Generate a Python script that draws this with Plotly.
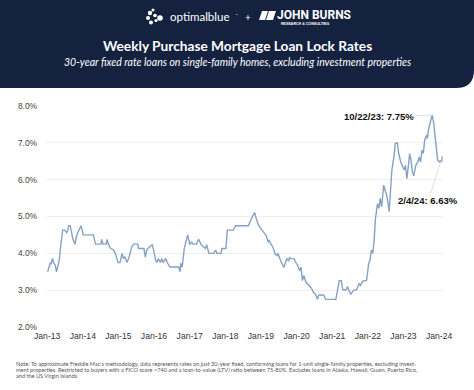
import plotly.graph_objects as go

# ---------------- data ----------------
dates = [
    "2013-01-06","2013-01-20","2013-02-03","2013-02-10","2013-02-24","2013-03-10","2013-03-24","2013-04-07",
    "2013-04-21","2013-05-05","2013-05-19","2013-06-09","2013-07-01","2013-07-21","2013-07-31","2013-08-11",
    "2013-08-25","2013-09-08","2013-09-22","2013-10-13","2013-10-27","2013-11-17","2013-12-15","2014-01-05",
    "2014-04-20","2014-05-11","2014-07-06","2014-07-13","2014-07-27","2014-08-31","2014-09-07","2014-09-21",
    "2014-10-12","2014-11-09","2014-11-30","2014-12-28","2015-01-18","2015-02-08","2015-02-22","2015-03-08",
    "2015-03-29","2015-04-19","2015-05-17","2015-06-07","2015-07-19","2015-07-26","2015-09-20","2015-10-04",
    "2015-10-18","2015-11-15","2015-12-13","2015-12-27","2016-01-17","2016-01-31","2016-02-14","2016-03-06",
    "2016-03-20","2016-04-03","2016-05-01","2016-05-15","2016-06-12","2016-09-11","2016-09-25","2016-10-02",
    "2016-10-16","2016-11-06","2016-11-20","2016-12-11","2017-01-01","2017-01-22","2017-02-05","2017-03-12",
    "2017-04-02","2017-04-16","2017-04-30","2017-05-21","2017-06-11","2017-06-25","2017-07-16","2017-09-03",
    "2017-09-24","2017-10-08","2017-11-19","2017-11-26","2018-01-07","2018-01-21","2018-03-25","2018-04-15",
    "2018-08-26","2018-09-23","2018-10-28","2018-11-11","2018-12-02","2018-12-23","2019-01-13","2019-02-03",
    "2019-02-24","2019-03-17","2019-03-24","2019-04-14","2019-05-05","2019-05-26","2019-06-16","2019-06-23",
    "2019-07-14","2019-07-28","2019-08-25","2019-09-08","2019-09-22","2019-10-13","2019-10-20","2019-11-17",
    "2019-12-08","2019-12-22","2020-01-12","2020-02-02","2020-02-16","2020-03-01","2020-03-15","2020-04-05",
    "2020-05-03","2020-05-31","2020-06-21","2020-07-19","2020-08-02","2020-08-16","2020-10-04","2020-10-25",
    "2021-02-07","2021-02-28","2021-03-14","2021-04-04","2021-04-18","2021-05-23","2021-06-06","2021-06-20",
    "2021-07-11","2021-08-08","2021-09-05","2021-10-03","2021-10-17","2021-11-07","2021-12-19","2022-01-09",
    "2022-01-23","2022-02-06","2022-02-20","2022-03-06","2022-03-20","2022-04-10","2022-04-24","2022-05-08",
    "2022-05-22","2022-06-12","2022-06-26","2022-07-17","2022-08-07","2022-08-21","2022-09-04","2022-09-25",
    "2022-10-09","2022-10-30","2022-11-13","2022-12-04","2022-12-18","2023-01-08","2023-01-22","2023-02-05",
    "2023-02-19","2023-03-05","2023-03-19","2023-04-02","2023-04-16","2023-05-07","2023-05-28","2023-06-11",
    "2023-06-25","2023-07-09","2023-07-23","2023-08-06","2023-08-27","2023-09-03","2023-09-17","2023-10-01",
    "2023-10-22","2023-11-05","2023-11-19","2023-12-03","2023-12-17","2024-01-07","2024-01-14","2024-01-28",
    "2024-02-04",
]
rates = [
    3.50,3.63,3.75,3.70,3.86,3.73,3.68,3.50,
    3.63,3.82,4.18,4.63,4.63,4.55,4.63,4.75,
    4.75,4.55,4.38,4.25,4.45,4.60,4.75,4.50,
    4.50,4.25,4.25,4.38,4.25,4.25,4.38,4.25,
    4.13,4.10,4.00,3.75,3.75,4.00,3.86,3.90,
    3.75,3.88,4.18,4.25,4.25,4.13,4.13,3.90,
    4.08,4.18,4.23,4.10,3.82,3.75,3.86,3.75,
    3.86,3.75,3.86,3.75,3.63,3.63,3.50,3.73,
    3.63,4.13,4.32,4.50,4.25,4.30,4.25,4.25,
    4.38,4.30,4.23,4.18,4.13,4.23,4.00,4.00,
    4.09,4.00,4.00,4.13,4.13,4.63,4.63,4.75,
    4.75,4.93,5.11,4.97,4.79,4.70,4.63,4.57,
    4.48,4.30,4.36,4.25,4.16,3.98,3.94,4.00,
    3.85,3.76,3.62,3.76,3.85,3.80,3.88,3.85,
    3.85,3.76,3.67,3.53,3.62,3.26,3.40,3.22,
    3.13,3.06,2.95,2.86,2.75,2.87,2.87,2.75,
    2.75,3.13,3.26,3.26,3.01,3.01,3.10,3.00,
    2.89,3.00,3.00,3.18,3.13,3.24,3.27,3.72,
    3.81,4.09,4.00,4.36,4.95,5.35,5.22,5.49,
    5.26,5.85,5.71,5.53,5.13,5.58,6.26,6.62,
    6.98,7.00,6.71,6.48,6.39,6.26,6.39,6.03,
    6.35,6.71,6.53,6.21,6.10,6.39,6.48,6.62,
    6.48,6.80,6.71,7.07,7.21,7.12,7.39,7.52,
    7.75,7.57,7.25,6.98,6.53,6.48,6.51,6.50,
    6.63,
]
y_ticks = [2, 3, 4, 5, 6, 7, 8]
y_tick_labels = ["2.0%", "3.0%", "4.0%", "5.0%", "6.0%", "7.0%", "8.0%"]
x_ticks = ["2013-01-01","2014-01-01","2015-01-01","2016-01-01","2017-01-01","2018-01-01",
           "2019-01-01","2020-01-01","2021-01-01","2022-01-01","2023-01-01","2024-01-01"]
x_tick_labels = ["Jan-13","Jan-14","Jan-15","Jan-16","Jan-17","Jan-18",
                 "Jan-19","Jan-20","Jan-21","Jan-22","Jan-23","Jan-24"]
peak_date, peak_value, peak_label = "2023-10-22", 7.75, "10/22/23: 7.75%"
last_date, last_value, last_label = "2024-02-04", 6.63, "2/4/24: 6.63%"

title = "Weekly Purchase Mortgage Loan Lock Rates"
subtitle = "30-year fixed rate loans on single-family homes, excluding investment properties"
note_lines = [
    "Note: To approximate Freddie Mac's methodology, data represents rates on just 30-year fixed, conforming loans for 1-unit single-family properties, excluding invest-",
    "ment properties. Restricted to buyers with a FICO score >740 and a loan-to-value (LTV) ratio between 75-80%. Excludes loans in Alaska, Hawaii, Guam, Puerto Rico,",
    "and the US Virgin Islands.",
]

# ---------------- layout geometry ----------------
W, H = 474, 390
ML, MR, MT, MB = 46, 31, 106, 63
PW, PH = W - ML - MR, H - MT - MB
NAVY = "#14213f"
LINE = "#86a2c3"


def xp(px):
    return (px - ML) / PW


def yp(py):
    return (H - MB - py) / PH


fig = go.Figure()
fig.add_trace(go.Scatter(x=dates, y=rates, mode="lines",
                         line=dict(color=LINE, width=1.4), hoverinfo="skip"))

shapes = []
# header band with rounded bottom-right corner
r = 18
hb = 88
path = (f"M {xp(0)},{yp(0)} L {xp(W)},{yp(0)} L {xp(W)},{yp(hb - r)} "
        f"Q {xp(W)},{yp(hb)} {xp(W - r)},{yp(hb)} L {xp(0)},{yp(hb)} Z")
shapes.append(dict(type="path", path=path, xref="paper", yref="paper",
                   fillcolor=NAVY, line=dict(width=0), layer="below"))
# optimal blue flower-ish icon
for (cx, cy, rr) in [(150, 13, 2.2), (148, 18, 2.0), (151, 22.5, 2.0), (155, 15.5, 1.8),
                     (156, 20.5, 1.6), (160, 18, 2.8), (153, 10, 1.5)]:
    shapes.append(dict(type="circle", xref="paper", yref="paper",
                       x0=xp(cx - rr), x1=xp(cx + rr), y0=yp(cy + rr), y1=yp(cy - rr),
                       fillcolor="white", line=dict(width=0)))
# John Burns icon: two slanted bars
for (x0, x1) in [(259, 265), (266, 273)]:
    p = (f"M {xp(x0 + 3)},{yp(11)} L {xp(x1 + 3)},{yp(11)} L {xp(x1)},{yp(20)} "
         f"L {xp(x0)},{yp(20)} Z")
    shapes.append(dict(type="path", path=p, xref="paper", yref="paper",
                       fillcolor="white", line=dict(width=0)))

annotations = []


def txt(s, px, py, size, color="white", bold=False, italic=False, xanchor="center",
        family="Lato, Arial, sans-serif"):
    if bold:
        s = f"<b>{s}</b>"
    if italic:
        s = f"<i>{s}</i>"
    annotations.append(dict(text=s, x=xp(px), y=yp(py), xref="paper", yref="paper",
                            xanchor=xanchor, yanchor="middle", showarrow=False,
                            font=dict(size=size, color=color, family=family)))


txt("optimalblue", 168, 16.5, 11.5, xanchor="left", family="Lato, sans-serif")
txt("·", 234, 14, 6, xanchor="left")
txt("+", 248, 17, 10)
txt("JOHN BURNS", 275, 15.5, 12, bold=True, xanchor="left", family="Roboto, Arial, sans-serif")
txt("RESEARCH & CONSULTING", 279, 24, 3.6, bold=True, xanchor="left", family="Arial, sans-serif")
txt(title, 237, 45, 13.7, bold=True, family="Lato, sans-serif")
txt(subtitle, 237, 62, 10.5, italic=True, family="Lato, sans-serif")

for i, line in enumerate(note_lines):
    annotations.append(dict(text=line, x=xp(14), y=yp(363.5 + i * 5.8), xref="paper", yref="paper",
                            xanchor="left", yanchor="middle", showarrow=False,
                            font=dict(size=5.6, color="#555", family="Lato, Arial, sans-serif")))

# data callouts
annotations.append(dict(x=peak_date, y=peak_value, xref="x", yref="y", text=f"<b>{peak_label}</b>",
                        showarrow=True, arrowhead=0, arrowwidth=0.6, arrowcolor="#c8c8c8",
                        ax=-53, ay=1, font=dict(size=9.5, color="#111", family="Arial, sans-serif")))
annotations.append(dict(x=last_date, y=last_value, xref="x", yref="y", text=f"<b>{last_label}</b>",
                        showarrow=True, arrowhead=0, arrowwidth=0.6, arrowcolor="#c8c8c8",
                        ax=-14, ay=44, font=dict(size=9.5, color="#111", family="Arial, sans-serif")))

fig.update_layout(
    width=W, height=H,
    margin=dict(l=ML, r=MR, t=MT, b=MB, pad=0),
    paper_bgcolor="white", plot_bgcolor="white",
    showlegend=False,
    shapes=shapes, annotations=annotations,
    xaxis=dict(type="date", range=["2012-12-20", "2024-02-10"], tickvals=x_ticks,
               ticktext=x_tick_labels, showgrid=False, zeroline=False, showline=False,
               ticks="", ticklabelstandoff=2, automargin=False,
               tickfont=dict(size=8.6, color="#333", family="Arial, sans-serif")),
    yaxis=dict(range=[2, 8], tickvals=y_ticks, ticktext=y_tick_labels, showgrid=True,
               gridcolor="#efefef", gridwidth=1, zeroline=False, showline=False, ticks="",
               ticklabelstandoff=8, automargin=False,
               tickfont=dict(size=8.4, color="#444", family="Arial, sans-serif")),
)

fig.write_html("out.html", config={"displayModeBar": False},
               post_script="document.body.style.margin='0';")
